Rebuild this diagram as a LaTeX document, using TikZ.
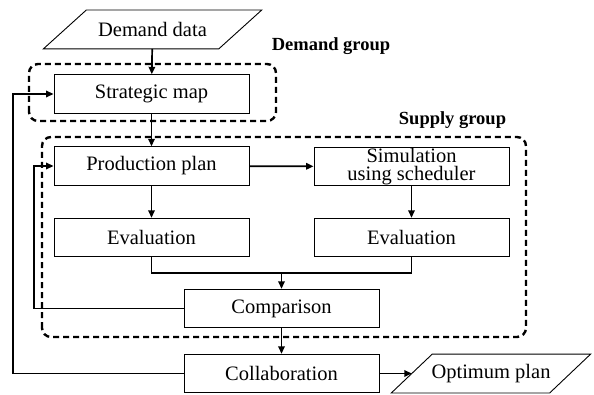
\documentclass[tikz,border=0pt]{standalone}
\usepackage{fontspec}
\setmainfont{Liberation Serif}
\usetikzlibrary{arrows.meta,calc}
\begin{document}
\begin{tikzpicture}[x=1pt,y=1pt,
  box/.style={draw,line width=0.9pt,minimum width=195pt,minimum height=38.5pt,inner sep=0pt,
    font=\fontsize{20.5}{18}\selectfont,align=center},
  para/.style={inner sep=0pt,minimum height=38.5pt,font=\fontsize{20.5}{18}\selectfont},
  paraline/.style={line width=0.9pt},
  conn/.style={line width=1.7pt},
  arr/.style={conn,-{Triangle[length=7.5pt,width=6.5pt]}},
  grp/.style={line width=2.4pt,dash pattern=on 6pt off 4pt,rounded corners=9pt},
  grplabel/.style={font=\bfseries\fontsize{18.5}{20}\selectfont,inner sep=0pt}]
\useasboundingbox (0,0) rectangle (594,394);
% nodes
\node[para,minimum width=175pt] (dd) at (152.5,364.5) {Demand data};
\draw[paraline] ($(dd.north west)+(21.5,0)$) -- ($(dd.north east)+(21.5,0)$)
  -- ($(dd.south east)+(-21.5,0)$) -- ($(dd.south west)+(-21.5,0)$) -- cycle;
\node[box] (sm) at (151.5,300) {Strategic map};
\node[box] (pp) at (151.5,228) {Production plan};
\node[box] (sim) at (411.5,227.5) {Simulation\\using scheduler};
\node[box] (ev1) at (151.5,156.5) {Evaluation};
\node[box] (ev2) at (411.5,156.5) {Evaluation};
\node[box] (cmp) at (281.5,85.5) {Comparison};
\node[box] (col) at (281.5,20.5) {Collaboration};
\node[para,minimum width=158pt] (op) at (491,20.5) {Optimum plan};
\draw[paraline] ($(op.north west)+(20.5,0)$) -- ($(op.north east)+(20.5,0)$)
  -- ($(op.south east)+(-20.5,0)$) -- ($(op.south west)+(-20.5,0)$) -- cycle;
% groups
\draw[grp] (29,273) rectangle (276,330);
\draw[grp] (42,57) rectangle (526,257);
\node[grplabel] (dgl) at (331,348) {Demand group};
\node[grplabel] (sgl) at (452.5,274) {Supply group};
% connectors
\coordinate (m) at (281.5,121);
\coordinate (fb1) at (34,0);
\coordinate (fb2) at (13,0);
\draw[arr] (dd) -- (sm);
\draw[arr] (sm) -- (pp);
\draw[arr] (pp) -- (sim);
\draw[arr] (pp) -- (ev1);
\draw[arr] (sim) -- (ev2);
\draw[conn] (ev1.south) |- (m);
\draw[conn] (ev2.south) |- (m);
\draw[arr] (m) -- (cmp.north);
\draw[arr] (cmp) -- (col);
\draw[arr] (cmp.west) -- (cmp.west -| fb1) |- (pp.west);
\draw[arr] (col.west) -- (col.west -| fb2) |- (sm.west);
\draw[arr] (col.east) -- (op.west);
\end{tikzpicture}
\end{document}
